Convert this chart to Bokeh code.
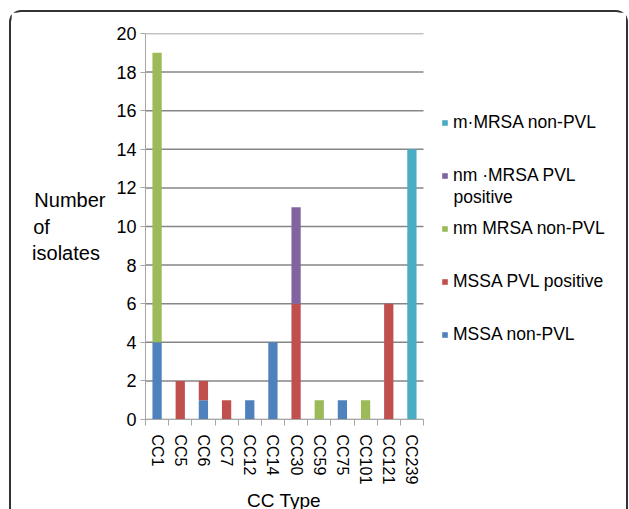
from bokeh.plotting import figure
from bokeh.models import Legend, LegendItem, FixedTicker, Range1d, ColumnDataSource, Label, Title
from bokeh.embed import file_html
from bokeh.resources import INLINE

categories = ["CC1", "CC5", "CC6", "CC7", "CC12", "CC14", "CC30", "CC59", "CC75", "CC101", "CC121", "CC239"]
mssa_non_pvl = [4, 0, 1, 0, 1, 4, 0, 0, 1, 0, 0, 0]
mssa_pvl_pos = [0, 2, 1, 1, 0, 0, 6, 0, 0, 0, 6, 0]
nm_mrsa_non_pvl = [15, 0, 0, 0, 0, 0, 0, 1, 0, 1, 0, 0]
nm_mrsa_pvl_pos = [0, 0, 0, 0, 0, 0, 5, 0, 0, 0, 0, 0]
m_mrsa_non_pvl = [0, 0, 0, 0, 0, 0, 0, 0, 0, 0, 0, 14]
series_keys = ["mssa_non_pvl", "mssa_pvl_pos", "nm_mrsa_non_pvl", "nm_mrsa_pvl_pos", "m_mrsa_non_pvl"]
series_labels = ["MSSA non-PVL", "MSSA PVL positive", "nm MRSA non-PVL", "nm \u00b7MRSA PVL", "m\u00b7MRSA non-PVL"]
label_continuation = "positive"
colors = ["#4F81BD", "#C0504D", "#9BBB59", "#8064A2", "#4BACC6"]
y_ticks = list(range(0, 21, 2))
x_title = "CC Type"

n = len(categories)
xs = [i + 0.5 for i in range(n)]
source = ColumnDataSource(dict(x=xs, mssa_non_pvl=mssa_non_pvl, mssa_pvl_pos=mssa_pvl_pos,
                               nm_mrsa_non_pvl=nm_mrsa_non_pvl, nm_mrsa_pvl_pos=nm_mrsa_pvl_pos,
                               m_mrsa_non_pvl=m_mrsa_non_pvl))

FONT = "Liberation Sans"

# layout: the bar area is 278px wide; the frame extends further right to host the legend
BAR_AREA_W = 278
FRAME_W = 476
x_end = n * FRAME_W / BAR_AREA_W

p = figure(frame_width=FRAME_W, frame_height=386, x_range=Range1d(0, x_end), y_range=Range1d(0, 20),
           output_backend="svg", toolbar_location=None,
           min_border_left=134, min_border_top=21, min_border_bottom=90, min_border_right=5,
           styles={"border-top": "2px solid #333333", "border-left": "2px solid #333333",
                   "border-right": "2px solid #333333", "border-radius": "12px 12px 0 0",
                   "margin-left": "9px", "margin-top": "10px"})
p.outline_line_color = None
p.background_fill_color = "white"
p.border_fill_color = "white"

# horizontal gridlines limited to the bar area
p.xgrid.visible = False
p.ygrid.visible = False
p.segment(x0=[0] * len(y_ticks), x1=[n] * len(y_ticks), y0=y_ticks, y1=y_ticks,
          line_color="#868686", line_width=1.5)

renderers = p.vbar_stack(series_keys, x="x", width=0.4, source=source,
                         fill_color=colors, line_color=None)

# y axis
p.yaxis.ticker = FixedTicker(ticks=y_ticks)
p.yaxis.major_tick_out = 5
p.yaxis.major_tick_in = 0
p.yaxis.minor_tick_line_color = None
p.yaxis.axis_line_color = "#A6A6A6"
p.yaxis.major_tick_line_color = "#A6A6A6"
p.yaxis.major_label_text_font = FONT
p.yaxis.major_label_text_font_size = "18px"
p.yaxis.major_label_text_color = "black"
p.yaxis.major_label_standoff = 4
p.yaxis.axis_label = "Number\nof" + "\u00a0" * 10 + "\nisolates\u00a0"
p.yaxis.axis_label_orientation = "horizontal"
p.yaxis.axis_label_text_font = FONT
p.yaxis.axis_label_text_font_style = "normal"
p.yaxis.axis_label_text_font_size = "20px"
p.yaxis.axis_label_text_color = "black"
p.yaxis.axis_label_standoff = 8

# x axis
p.xaxis.bounds = (0, n)
p.xaxis.ticker = FixedTicker(ticks=xs, minor_ticks=list(range(n + 1)))
p.xaxis.major_label_overrides = {x: c for x, c in zip(xs, categories)}
p.xaxis.major_tick_line_color = None
p.xaxis.major_tick_out = 0
p.xaxis.major_tick_in = 0
p.xaxis.minor_tick_out = 6
p.xaxis.minor_tick_in = 0
p.xaxis.minor_tick_line_color = "#A6A6A6"
p.xaxis.axis_line_color = "#A6A6A6"
p.xaxis.major_label_orientation = "vertical"
p.xaxis.major_label_text_font = FONT
p.xaxis.major_label_text_font_size = "16px"
p.xaxis.major_label_text_color = "black"
p.xaxis.major_label_standoff = 9

# x-axis title centred under the bar area (not under the whole frame)
TITLE_W = 75
p.add_layout(Title(text=x_title, align="left", offset=(BAR_AREA_W - TITLE_W) / 2,
                   text_font=FONT, text_font_size="19px", text_font_style="normal",
                   text_color="black", standoff=0), "below")

items = [LegendItem(label=lab, renderers=[r]) for lab, r in zip(series_labels, renderers)][::-1]


def make_legend(its, loc):
    lg = Legend(items=its, location=loc)
    lg.label_text_font = FONT
    lg.label_text_font_size = "17.5px"
    lg.label_text_color = "black"
    lg.glyph_width = 7
    lg.glyph_height = 7
    lg.label_height = 18
    lg.label_standoff = 5
    lg.spacing = 32
    lg.border_line_color = None
    lg.background_fill_alpha = 0
    lg.padding = 0
    lg.margin = 0
    return lg


p.add_layout(make_legend(items[:2], (296, 233.5)))
p.add_layout(make_legend(items[2:], (296, 74.5)))
p.add_layout(Label(x=308, y=223, x_units="screen", y_units="screen", text=label_continuation,
                   text_font=FONT, text_font_size="17.5px", text_color="black", text_baseline="middle"))

open("out.html", "w").write(file_html(p, INLINE))
